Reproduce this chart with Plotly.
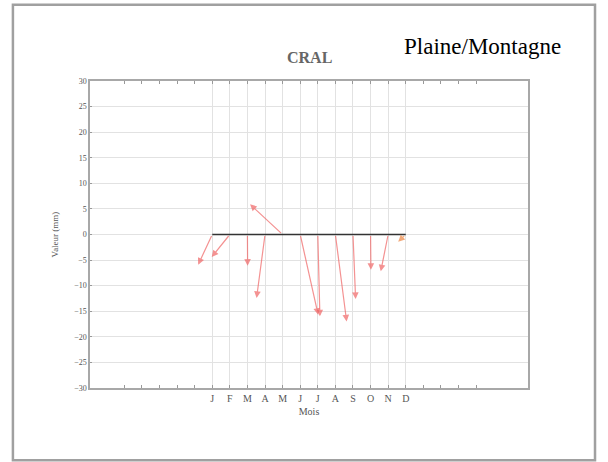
import plotly.graph_objects as go

# ---- data ----
month_labels = ["J", "F", "M", "A", "M", "J", "J", "A", "S", "O", "N", "D"]
months = list(range(1, 13))
tail_values = [0] * 12
head_months = [0.20, 0.97, 3.01, 3.52, 3.15, 7.02, 7.12, 8.64, 9.15, 10.02, 10.58, 11.57]
head_values = [-5.9, -4.4, -6.1, -12.4, 5.9, -15.7, -16.0, -17.0, -12.6, -6.9, -7.2, -1.4]
extra_ticks = [-4, -3, -2, -1, 0, 13, 14, 15, 16]
y_ticks = list(range(-30, 31, 5))

serif = "Liberation Serif, Times New Roman, serif"

fig = go.Figure()

# zero line from first to last month
fig.add_trace(go.Scatter(
    x=[months[0], months[-1]], y=[tail_values[0], tail_values[-1]],
    mode="lines", line=dict(color="#333333", width=1.5),
    hoverinfo="skip", showlegend=False))

annotations = []
for i, m in enumerate(months):
    col = "rgba(240,100,100,0.7)" if i != 11 else "rgba(240,150,90,0.8)"
    annotations.append(dict(
        x=head_months[i], y=head_values[i], xref="x", yref="y",
        ax=m, ay=tail_values[i], axref="x", ayref="y",
        showarrow=True, arrowhead=2, arrowsize=1.1, arrowwidth=1.2,
        arrowcolor=col, text=""))

annotations.append(dict(text="<b>CRAL</b>", x=0.5, y=1.078, xref="paper", yref="paper",
                        xanchor="center", yanchor="middle",
                        showarrow=False, font=dict(family=serif, size=16, color="#666666")))
annotations.append(dict(text="Plaine/Montagne", x=0.897, y=1.111, xref="paper", yref="paper",
                        xanchor="center", yanchor="middle",
                        showarrow=False, font=dict(family=serif, size=23, color="#000000")))

fig.update_layout(
    width=608, height=462,
    margin=dict(l=90, r=80, t=81, b=74),
    paper_bgcolor="white", plot_bgcolor="white",
    showlegend=False,
    annotations=annotations,
    shapes=[dict(type="rect", xref="paper", yref="paper",
                 x0=-0.176, x1=1.153, y0=-0.235, y1=1.248,
                 line=dict(color="#a0a0a0", width=2.5), layer="below")],
    xaxis=dict(
        range=[-5.95, 18.95],
        tickmode="array", tickvals=months, ticktext=month_labels,
        showgrid=True, gridcolor="#e2e2e2", gridwidth=1,
        ticks="inside", ticklen=3, tickcolor="#999999",
        minor=dict(tickmode="array", tickvals=extra_ticks, ticks="inside",
                   ticklen=3, tickcolor="#999999", showgrid=False),
        showline=True, linecolor="#a8a8a8", linewidth=1.5, mirror="ticks",
        zeroline=False,
        tickfont=dict(family=serif, size=10, color="#555555"),
        title=dict(text="Mois", standoff=5, font=dict(family=serif, size=10, color="#555555")),
    ),
    yaxis=dict(
        range=[-30, 30],
        tickmode="array", tickvals=y_ticks,
        showgrid=True, gridcolor="#e2e2e2", gridwidth=1,
        ticks="inside", ticklen=2, tickcolor="#999999",
        showline=True, linecolor="#a8a8a8", linewidth=1.5, mirror=True,
        zeroline=False,
        tickfont=dict(family=serif, size=8, color="#555555"),
        title=dict(text="Valeur (mm)", standoff=14, font=dict(family=serif, size=9, color="#555555")),
    ),
)

fig.write_html("out.html", config={"displayModeBar": False},
               post_script="document.body.style.margin='0';")
